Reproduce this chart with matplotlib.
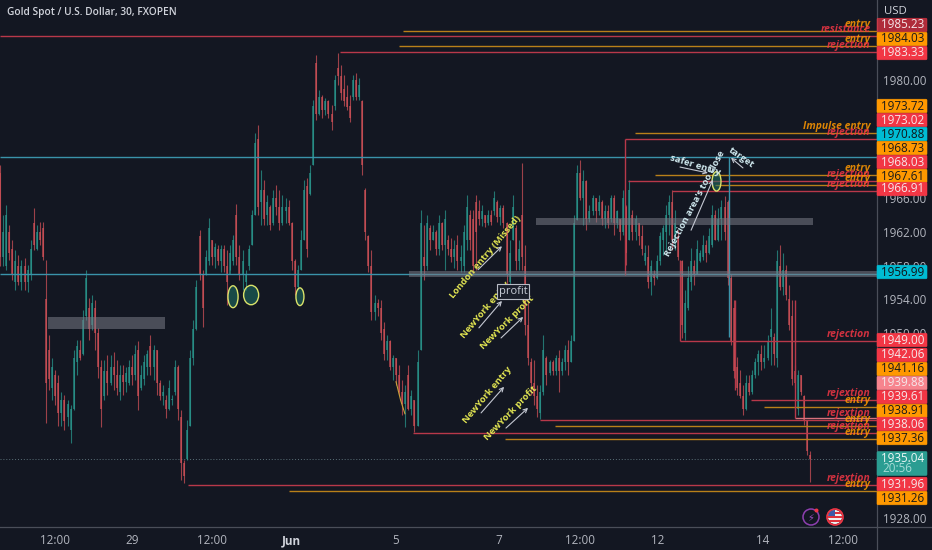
import matplotlib
matplotlib.use("Agg")
import matplotlib.pyplot as plt
from matplotlib.patches import Ellipse, Rectangle, Circle, FancyBboxPatch

# 30 min candles, ten per row
bar_open = [
    1969,1959,1958,1962,1960,1956,1958,1956,1958,1956,
    1957,1963,1960,1962,1962.5,1954,1948,1943.5,1945,1944,
    1940.5,1942,1940,1938.5,1941,1946.5,1948,1947.5,1952,1953,
    1951,1953,1950,1946,1942.5,1945.5,1944,1946,1945,1943,
    1945,1944.2,1944,1946,1945,1948,1943.5,1944.5,1946,1948.5,
    1946,1948,1944,1942.5,1942,1941,1942,1943,1946,1940,
    1934.5,1935,1939,1947,1950.5,1961.5,1957,1957,1958.5,1961,
    1959,1960,1958.5,1960,1958,1957,1958.5,1964,1959,1957,
    1956,1958,1960.5,1964,1973,1965.5,1967,1964,1965,1963,
    1966,1965,1963,1964.5,1965,1963,1958.5,1955.5,1957.5,1961,
    1967.5,1966.5,1970,1982,1976,1978,1976.5,1977.5,1976,1977,
    1981.5,1980.5,1979,1978,1977,1978,1980,1978,1977.5,1967,
    1961.5,1958,1952.5,1953.5,1953,1950.5,1948,1949,1946,1947,
    1945,1943,1941.5,1945,1941,1942,1939,1948,1959,1958,
    1962.5,1961,1962,1960,1963,1960.5,1961,1960,1959,1960.5,
    1958.5,1958,1961,1964,1963.5,1965.5,1964.5,1963.5,1964,1963,
    1964,1964.5,1965.5,1963.8,1964.8,1963,1956,1961,1962.5,1958.5,
    1964,1958,1951,1946.5,1944,1942.5,1940.5,1943,1947,1945.2,
    1946.5,1945.5,1947,1945.5,1946.5,1948,1946.5,1949,1963.4,1969,
    1966,1968,1963.5,1964.5,1966,1964.5,1965.5,1963.5,1964.5,1963.5,
    1966,1963,1963.5,1962,1965,1961,1964,1962,1963,1961.5,
    1958.5,1959,1956,1957,1956.5,1958.5,1961,1962,1964,1965.5,
    1961,1961.5,1958.5,1950,1953,1956,1958,1957,1958.5,1959,
    1960.5,1959.5,1960.5,1964,1961,1963.5,1965,1965.5,1956.5,1953,
    1946,1944,1942.5,1941,1944,1943,1945,1946.5,1947.5,1946.5,
    1947,1949.5,1949.5,1947,1958,1955.5,1957.5,1954,1952,1945.5,
    1941,1945,1942.5,1939.5,1935.5,
]
bar_high = [
    1970,1964,1965.2,1962.8,1961,1959.8,1959.2,1958.7,1958.9,1958.1,
    1961,1964.8,1962.8,1963.2,1963.2,1958.7,1949.8,1947,1945.6,1945,
    1943,1942.6,1942,1941.4,1948,1949.2,1949.2,1952.7,1957.5,1954.1,
    1954.5,1953.9,1950.6,1946.8,1946.8,1947.4,1947.4,1947.7,1946.8,1946.2,
    1946.2,1946,1946.8,1947.4,1948.6,1949,1946.2,1947.4,1948,1949.8,
    1948.6,1948,1944.4,1943.8,1942.6,1944.4,1942.6,1946.8,1946.2,1940.8,
    1934.9,1939.7,1948,1951.5,1956.3,1962.2,1957.5,1959.8,1963.6,1961,
    1960.7,1960.4,1960.4,1960.4,1959.8,1960.4,1961.6,1965.3,1960.4,1959.8,
    1957.5,1960.4,1964.6,1973.7,1974.7,1969.3,1968.2,1966.4,1965.2,1967,
    1967.6,1967,1966.4,1966,1965.8,1963.2,1958.8,1958.1,1962.2,1968.2,
    1968.4,1970,1977.7,1983,1978.8,1978.3,1977.9,1977.7,1977.1,1980.6,
    1983.3,1981.8,1980.6,1979.4,1978.3,1980.6,1980.9,1980.3,1977.7,1967.2,
    1961.6,1959.8,1954.5,1954,1953.9,1951.3,1949.8,1949.2,1947.4,1947,
    1946.2,1944.4,1943.8,1946.2,1943.2,1942,1948,1964.6,1962.8,1964,
    1962.8,1962.8,1962.2,1964,1963.2,1964.6,1961.6,1961.3,1961,1961.6,
    1960.4,1962.8,1966.4,1964.6,1964.6,1966.4,1965.8,1965.2,1964,1964.6,
    1964.6,1966.9,1965.8,1965.2,1965.2,1963.2,1961,1966.4,1962.8,1961,
    1970.2,1960.4,1953.9,1947,1946.8,1943.8,1943.8,1949.8,1947.2,1946.8,
    1946.8,1947.4,1948,1947,1948.6,1949.2,1949.8,1964,1970,1970.5,
    1969.3,1968.2,1965.2,1966.4,1966,1966.4,1965.8,1965.2,1965.2,1966.4,
    1966.4,1964.6,1963.5,1967,1965.2,1968.2,1964.6,1964,1963,1962.8,
    1960.4,1960.4,1958.7,1957.5,1959.2,1962,1962.8,1965.2,1966.4,1967,
    1964.6,1962.2,1958.7,1955.1,1958,1960.1,1958.7,1961,1959.8,1961.6,
    1961,1962.5,1965.2,1964.6,1964.8,1965.8,1966.3,1965.8,1957,1953.9,
    1947.1,1945.6,1943.8,1945,1945,1945.6,1947,1948,1948.6,1948.6,
    1949.8,1953,1950,1959.8,1960.4,1959.5,1958.1,1955.7,1953.9,1946.2,
    1945.6,1945,1942.6,1939.7,1936,
]
bar_low = [
    1958,1958,1957.5,1958.7,1956.3,1955.1,1955.7,1955.1,1955.1,1954.9,
    1956.3,1959.8,1959.8,1960.4,1958.7,1939.3,1943.2,1942,1941.4,1939,
    1939,1938.5,1939,1936.9,1940.8,1945,1946.8,1947.4,1951.5,1949.2,
    1950.3,1948,1944.7,1938.8,1942,1942.6,1943.8,1943.2,1942.6,1942,
    1942.6,1943,1943.8,1943.8,1944.4,1940.8,1943.2,1943.8,1945,1945,
    1944.4,1942.6,1942,1941.4,1939.9,1940.8,1941.4,1942.6,1939.7,1932.5,
    1932.2,1934.9,1939,1946.2,1950.3,1956.3,1950.7,1956.9,1958.1,1958.1,
    1957.7,1958.1,1957.2,1957.2,1953.3,1957.5,1958.1,1958.1,1956.3,1955.1,
    1955.1,1957.5,1960.4,1964,1964,1962.8,1962.8,1962.8,1962.2,1962.8,
    1964,1962.2,1962.8,1963,1962.8,1957.5,1954.5,1955.1,1957.5,1961,
    1959,1966.4,1970,1975.3,1975.9,1975.5,1975.9,1975.5,1974.1,1976.5,
    1979.4,1977.7,1977,1976.5,1975,1977.7,1977.7,1977.7,1968.8,1961,
    1957.2,1951.5,1951.5,1952,1949.2,1946.8,1946.8,1945.6,1944.4,1943.8,
    1942.6,1940.2,1938.8,1940.8,1940.2,1938.2,1939,1948,1956.3,1957.5,
    1959.8,1961,1959.2,1959.2,1959.8,1957.5,1959.2,1958.4,1957.7,1957.5,
    1957.2,1957.2,1959.8,1959.8,1956.9,1957.5,1962.8,1962.7,1962.6,1962.8,
    1962.8,1964,1963.2,1962.8,1962.5,1955.1,1954.5,1961,1957.5,1957.5,
    1957.5,1949.8,1946.2,1942.6,1941.4,1940,1939.8,1942.6,1943.8,1945,
    1945,1945,1943,1945,1945.6,1945,1946.5,1949,1963.4,1965.8,
    1962.8,1962.2,1963.2,1964,1963.2,1964,1962.8,1962.5,1962.5,1963.2,
    1961.6,1962.5,1961,1961.6,1958.1,1961,1961,1961,1960.4,1959.2,
    1958.1,1955.3,1954.5,1955.7,1956.4,1958.1,1959.2,1959.8,1961.6,1959.8,
    1959.8,1958.7,1949.4,1949.2,1952.7,1955.1,1955.7,1957,1958.4,1958.7,
    1958.4,1959.4,1960.2,1961,1960.9,1961,1961,1955.7,1948.6,1944.7,
    1942.6,1942.3,1940.2,1940.8,1942.6,1942.8,1944.7,1945,1945.6,1945.8,
    1946.8,1946.2,1946.2,1946,1955.1,1954.5,1953.9,1950.3,1943.8,1943.5,
    1940.2,1942.6,1939.1,1935.5,1932.3,
]
bar_close = [
    1959,1962,1964,1959.5,1957,1958.5,1956,1958,1956,1957.5,
    1960,1960.5,1962,1961,1959,1944,1944.5,1946,1942.5,1940.5,
    1942,1939.5,1941.5,1941,1947,1948.5,1947,1951.5,1956.5,1950.5,
    1953.5,1950,1946,1941,1945.5,1944,1946,1945,1943.5,1945,
    1944.2,1945.2,1946,1945,1947.5,1942.5,1945,1946.5,1947.5,1946,
    1948,1944,1942.5,1943,1941,1943.5,1942.2,1946,1941,1934.5,
    1933,1938.5,1947,1950.5,1955.5,1957,1953,1959,1962.5,1959,
    1960.2,1958.5,1960,1958,1956,1959.5,1961,1959,1957,1958.5,
    1957,1960,1964,1972.5,1965,1967,1963.5,1965.5,1962.8,1966,
    1965,1963,1965,1965,1963,1958.5,1955.5,1957.5,1961,1967,
    1960,1969,1977,1976,1978,1976.5,1977.5,1976,1975,1980,
    1980.5,1978.5,1977.5,1976.8,1975.5,1980,1978,1979.5,1970,1962,
    1958,1952.5,1953.5,1953,1950,1947.5,1949,1946,1947,1945,
    1943,1941.5,1943,1941,1942.5,1939,1946.5,1963,1958,1963,
    1961,1962,1960,1963,1960.5,1963.5,1960,1959,1960,1958.5,
    1959,1962,1965,1961,1958,1962,1963.5,1964.5,1963,1964,
    1963.2,1966,1963.8,1964.8,1963,1957,1959.5,1965,1958.5,1960,
    1959,1951,1947,1944,1942.5,1941,1943,1948,1945,1946.5,
    1945.5,1947,1945.5,1946.5,1948,1946.5,1949,1963,1969,1966,
    1968,1963.5,1964.5,1966,1964.5,1965.5,1963.5,1964.5,1963,1966,
    1963,1964.5,1962,1966,1959.5,1967,1962,1963.5,1961.5,1960,
    1959.5,1956,1958,1956.5,1958.5,1961.5,1962.5,1964,1965.5,1961,
    1963,1959,1951,1953.5,1956.5,1958.5,1957,1960,1959.5,1960.5,
    1959.5,1961.5,1964,1961,1963.5,1965,1962,1956.5,1949,1945.5,
    1943.5,1942.5,1941,1944,1943,1945,1946.5,1947.5,1946.5,1947,
    1949,1950.5,1947.5,1958.5,1955.5,1957.5,1954.5,1951,1944.5,1944,
    1945,1943,1939.5,1936,1935.04,
]

# horizontal levels: price, bar where the line starts, colour name, label
level_price = [1985.85,1985.23,1984.03,1983.33,1973.72,1973.02,1970.88,1968.73,1968.03,1967.61,
               1966.91,1956.99,1949.00,1942.06,1941.16,1939.88,1939.61,1938.91,1938.06,1937.36,
               1931.96,1931.26]
level_start = [131.3,0,130,110.7,206.8,203.6,0,213.4,204.6,232.9,
               218.9,0,221.5,244.6,248.9,259,175.9,180.8,134.5,164.5,
               61.2,94.1]
level_kind = ["o","r","o","r","o","r","c","o","r","o",
              "r","c","r","r","o","p","r","o","r","o",
              "r","o"]
level_text = ["entry","resistance","entry","rejection","Impulse entry","rejection",None,"entry","rejection","entry",
              "rejection",None,"rejection","rejextion","entry",None,"rejextion","entry","rejextion","entry",
              "rejextion","entry"]

# price tags on the right scale
tag_value = ["1985.23","1984.03","1983.33","1973.72","1973.02","1970.88","1968.73","1968.03","1967.61","1966.91",
             "1956.99","1949.00","1942.06","1941.16","1939.88","1939.61","1938.91","1938.06","1937.36",
             "1931.96","1931.26"]
tag_kind = ["r","o","r","o","r","c","o","r","o","r",
            "c","r","r","o","p","r","o","r","o",
            "r","o"]

price_ticks = [1928,1950,1954,1958,1962,1966,1980]
time_ticks = [17.9,43,69,94.8,128.7,162.5,188.9,214.3,248.5,274.6]
time_labels = ["12:00","29","12:00","Jun","5","7","12:00","12","14","12:00"]

BG = "#131722"
UP = "#2a9d92"
DOWN = "#d9545a"
LINE_COL = {"r": "#b8384a", "o": "#b98019", "c": "#3a93aa", "p": "#d8717c"}
TAG_COL = {"r": "#f23645", "o": "#ff9800", "c": "#00bcd4", "p": "#f7848e"}
TAG_TXT = {"r": "#f5e8ea", "o": "#1a1a1a", "c": "#101418", "p": "#f5e8ea"}
TEXT_COL = {"r": "#f23645", "o": "#ff9800"}
YEL = "#e2e552"
PALE = "#cfe8ee"
FONT = "Open Sans"

plt.rcParams["font.family"] = [FONT, "DejaVu Sans"]

fig = plt.figure(figsize=(9.32, 5.5), dpi=100, facecolor=BG)
ax = fig.add_axes([0, 23 / 550, 876.5 / 932, 527 / 550], facecolor=BG)
ax.set_xlim(0, 285.5)
ax.set_ylim(1926.95, 1989.54)

# candles
pos = list(range(len(bar_open)))
cols = [UP if c >= o else DOWN for o, c in zip(bar_open, bar_close)]
ax.vlines(pos, bar_low, bar_high, colors=cols, linewidth=0.8, alpha=0.7, zorder=3)
bottoms = [min(o, c) for o, c in zip(bar_open, bar_close)]
heights = [abs(o - c) for o, c in zip(bar_open, bar_close)]
ax.bar(pos, heights, bottom=bottoms, width=0.65, color=cols, alpha=0.62, zorder=3)

# levels and their italic labels
for p, s, k, t in zip(level_price, level_start, level_kind, level_text):
    ax.hlines(p, s, 285.5, colors=LINE_COL[k], linewidth=1.0, zorder=4)
    if t:
        ax.annotate(t, xy=(285.5, p), xytext=(-6, 6.5), textcoords="offset pixels",
                    ha="right", va="center", color=TEXT_COL[k], fontsize=7.5,
                    style="italic", weight="bold", alpha=0.85, zorder=6)

# last price dots
ax.axhline(1935.04, color="#5b7078", linewidth=0.7, linestyle=(0, (1, 2)), zorder=2)

# verticals hanging from the levels
ax.vlines(203.6, 1956.9, 1973.02, colors=LINE_COL["r"], linewidth=1.0, zorder=4)
ax.vlines(221.5, 1949.0, 1958.7, colors=LINE_COL["r"], linewidth=1.0, zorder=4)
ax.vlines(237.6, 1949.5, 1970.88, colors=LINE_COL["c"], linewidth=1.0, zorder=4)
ax.vlines(239.4, 1943.2, 1953.9, colors=LINE_COL["r"], linewidth=1.0, zorder=4)
ax.vlines(259, 1939.88, 1953.9, colors=LINE_COL["r"], linewidth=1.0, zorder=4)

# grey zones
ax.add_patch(Rectangle((15.6, 1950.5), 38.1, 1.4, color="#787b86", alpha=0.55, lw=0, zorder=5))
ax.add_patch(Rectangle((174.6, 1962.8), 90.2, 0.9, color="#787b86", alpha=0.55, lw=0, zorder=5))
ax.add_patch(Rectangle((133.2, 1956.6), 152.3, 0.8, color="#787b86", alpha=0.55, lw=0, zorder=5))

# circled spots
for cx, cy, w, h in [(75.9, 1954.3, 3.3, 2.6), (81.8, 1954.5, 4.9, 2.3),
                     (97.7, 1954.3, 2.6, 2.1), (233.4, 1968.0, 2.9, 2.3)]:
    ax.add_patch(Ellipse((cx, cy), w, h, facecolor=(0.12, 0.45, 0.40, 0.55), edgecolor="#d9e26a",
                         lw=1, zorder=6))
ax.plot([129, 130.5, 131.9], [1944.2, 1942, 1940.4], color="#c9a23a", lw=0.8, zorder=6)

# drawn notes
notes = [("London entry (Missed)", 158, 1959.0, 50, YEL),
         ("NewYork entry", 158, 1952.7, 50, YEL),
         ("NewYork profit", 165.1, 1951.3, 45, YEL),
         ("NewYork entry", 158.6, 1942.6, 50, YEL),
         ("NewYork profit", 166.4, 1940.5, 46, YEL),
         ("safer entry", 226.4, 1969.9, -17, PALE),
         ("Rejection area's too close", 226.4, 1965.4, 62, PALE),
         ("target", 241.4, 1970.8, -35, PALE)]
for t, x, y, rot, c in notes:
    ax.text(x, y, t, rotation=rot, rotation_mode="anchor", ha="center", va="center",
            color=c, fontsize=6.8, weight="bold", zorder=8)

arrows = [(155.7, 1957.5, 163.5, 1960.3), (156, 1950.6, 163.5, 1953.8),
          (163.2, 1949.4, 170.4, 1951.9), (156.7, 1940.5, 164.2, 1943.6),
          (164.8, 1938.7, 172, 1941.1), (221.5, 1969.7, 230.6, 1969),
          (225.1, 1962.2, 232.2, 1968.2), (242, 1969.6, 238.1, 1970.8)]
for x0, y0, x1, y1 in arrows:
    ax.annotate("", xy=(x1, y1), xytext=(x0, y0), zorder=7,
                arrowprops=dict(arrowstyle="->", color="#c4c8d2", lw=0.8, mutation_scale=7,
                                shrinkA=0, shrinkB=0))

ax.text(167.1, 1954.9, "profit", ha="center", va="center", color="#c9ced8", fontsize=8, zorder=8,
        bbox=dict(boxstyle="square,pad=0.15", fc="#1a1e2a", ec="#b8bcc6", lw=0.8))

# axes
for s in ax.spines.values():
    s.set_visible(False)
ax.yaxis.tick_right()
ax.set_yticks(price_ticks, [f"{v:.2f}" for v in price_ticks])
ax.set_xticks(time_ticks, time_labels)
ax.tick_params(axis="both", length=0, colors="#b2b5be", labelsize=8.4)
ax.tick_params(axis="y", pad=5)
ax.tick_params(axis="x", pad=5)
for lab in ax.get_xticklabels():
    if lab.get_text() == "Jun":
        lab.set_fontweight("bold")
        lab.set_color("#d1d4dc")

# chrome in pixel coordinates
ov = fig.add_axes([0, 0, 1, 1], facecolor="none")
ov.set_xlim(0, 932)
ov.set_ylim(550, 0)
ov.axis("off")
ov.plot([876.5, 876.5], [0, 550], color="#4a4e59", lw=0.9)
ov.plot([0, 932], [527, 527], color="#4a4e59", lw=0.9)

tag_y = [25, 39, 53, 106, 120, 134, 148, 162, 176, 189,
         272, 340, 355, 369, 383, 397, 411, 424, 438, 484, 498]
for v, k, y in zip(tag_value, tag_kind, tag_y):
    a = 0.7 if v == "1985.23" else 1
    ov.add_patch(FancyBboxPatch((877, y - 6.8), 50, 13.6, boxstyle="round,pad=0,rounding_size=1.2",
                                fc=TAG_COL[k], ec=TAG_COL[k], lw=0.4, alpha=a, zorder=5))
    ov.text(902.5, y, v, ha="center", va="center", color=TAG_TXT[k], fontsize=8.4, zorder=6)

ov.add_patch(FancyBboxPatch((877, 451.5), 50, 24, boxstyle="round,pad=0,rounding_size=1.2",
                            fc=UP, ec=UP, lw=0.4, zorder=5))
ov.text(902.5, 458, "1935.04", ha="center", va="center", color="#eef7f6", fontsize=8.4, zorder=6)
ov.text(897, 469, "20:56", ha="center", va="center", color="#a6dcd6", fontsize=8.4, zorder=6)

ov.text(7, 13, "Gold Spot / U.S. Dollar, 30, FXOPEN", color="#d1d4dc", fontsize=7.3,
        weight="semibold", ha="left", va="center")
ov.text(884, 11, "USD", color="#d1d4dc", fontsize=8.2, ha="left", va="center")

# the two small badges
ov.add_patch(Circle((811, 517), 8, fc=BG, ec="#8e3fb0", lw=1.1))
ov.text(811, 517.5, "\u26a1", color="#9c4fc4", fontsize=7, ha="center", va="center",
        family="DejaVu Sans")
ov.add_patch(Circle((816.5, 510.5), 2, fc="#f23645", ec="none"))
ring = Circle((835, 517), 7, fc="#f0f0f0", ec="none", zorder=3)
ov.add_patch(ring)
for y in (513, 517, 521):
    r = Rectangle((827, y - 0.9), 16, 1.8, fc="#e0323c", ec="none", zorder=4)
    ov.add_patch(r)
    r.set_clip_path(ring)
r = Rectangle((827, 509), 8, 6.5, fc="#3c5aa8", ec="none", zorder=5)
ov.add_patch(r)
r.set_clip_path(ring)
ov.add_patch(Circle((835, 517), 8, fc="none", ec="#f23645", lw=1.2, zorder=6))

fig.savefig("out.png", dpi=100, facecolor=BG)
